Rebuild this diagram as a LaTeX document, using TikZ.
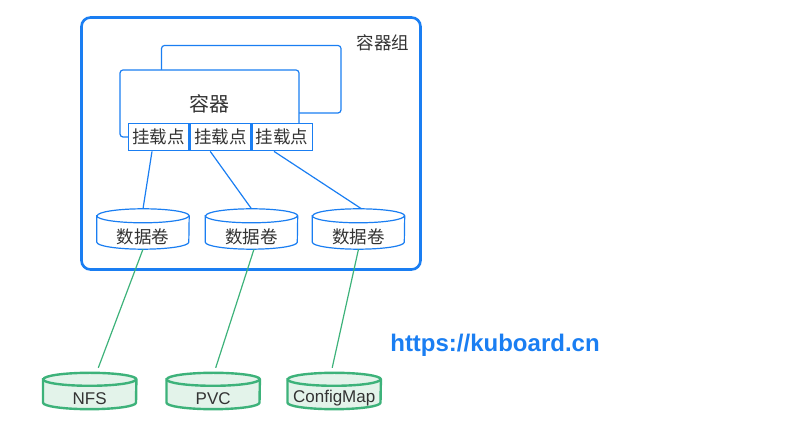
\documentclass[tikz,border=0pt]{standalone}
\usepackage{fontspec}
\setmainfont{Liberation Sans}
\newfontfamily\cjk{Noto Sans CJK SC}
\definecolor{kblue}{HTML}{1A7EF2}
\definecolor{kgreen}{HTML}{3DB27A}
\definecolor{kgfill}{HTML}{E3F3EA}
\definecolor{ktext}{HTML}{333333}
\tikzset{
  podbox/.style={draw=kblue, line width=2.6pt, rounded corners=9pt},
  ctrbox/.style={draw=kblue, line width=1.2pt, rounded corners=3pt, fill=white},
  mountbox/.style={draw=kblue, line width=1.3pt, fill=white, minimum width=60.3pt, minimum height=27.5pt, inner sep=0pt, text=ktext, font=\cjk\fontsize{17.5}{20}\selectfont},
  volstyle/.style={draw=kblue, line width=1.2pt, fill=white},
  srcstyle/.style={draw=kgreen, line width=2.4pt, fill=kgfill},
  bluelink/.style={draw=kblue, line width=1.2pt},
  greenlink/.style={draw=kgreen, line width=1.2pt},
  cjklabel/.style={text=ktext, font=\cjk\fontsize{17.5}{20}\selectfont, inner sep=0pt},
  latlabel/.style={text=ktext, font=\fontsize{17}{20}\selectfont, inner sep=0pt},
}
% #1 name, #2 cx, #3 cy, #4 width, #5 height, #6 ry, #7 style, #8 label style, #9 text
\newcommand\mydrum[9]{%
  \node[inner sep=0pt, minimum width=#4pt, minimum height=#5pt] (#1) at (#2,#3) {};
  \path[#7] ([yshift=-#6pt]#1.north west) -- ([yshift=#6pt]#1.south west)
    arc[start angle=180, end angle=360, x radius={#4*0.5pt}, y radius=#6pt]
    -- ([yshift=-#6pt]#1.north east)
    arc[start angle=0, end angle=180, x radius={#4*0.5pt}, y radius=#6pt] -- cycle;
  \path[#7, fill=none] ([yshift=-#6pt]#1.north west)
    arc[start angle=180, end angle=360, x radius={#4*0.5pt}, y radius=#6pt];
  \node[#8] (#1-label) at ([yshift=-7.5pt]#1.center) {#9};
}
\begin{document}
\begin{tikzpicture}[x=1pt, y=1pt]
\useasboundingbox (0,0) rectangle (807,433);
% pod
\draw[podbox] (81.5,163.5) rectangle (420.5,415.5);
\node[cjklabel] (podlabel) at (383,390) {容器组};
% containers
\draw[ctrbox] (161.5,320) rectangle (341,387.5);
\draw[ctrbox] (120,296) rectangle (299,363);
\node[cjklabel, font=\cjk\fontsize{20}{24}\selectfont] (ctrlabel) at (209,329) {容器};
% mount points
\node[mountbox] (m1) at (158.5,296) {挂载点};
\node[mountbox] (m2) at (220.25,296) {挂载点};
\node[mountbox] (m3) at (282,296) {挂载点};
% volumes
\mydrum{v1}{143}{204}{92}{40}{7}{volstyle}{cjklabel}{数据卷}
\mydrum{v2}{251.5}{204}{92}{40}{7}{volstyle}{cjklabel}{数据卷}
\mydrum{v3}{358.5}{204}{92}{40}{7}{volstyle}{cjklabel}{数据卷}
% sources
\mydrum{nfs}{89.7}{42}{93}{36}{6.5}{srcstyle}{latlabel}{NFS}
\mydrum{pvc}{213.2}{42}{93}{36}{6.5}{srcstyle}{latlabel}{PVC}
\mydrum{cm}{334.2}{42}{93}{36}{6.5}{srcstyle}{latlabel}{ConfigMap}
% links
\draw[bluelink] ([xshift=-6.5pt]m1.south) -- (v1.north);
\draw[bluelink] ([xshift=-10pt]m2.south) -- (v2.north);
\draw[bluelink] ([xshift=-8pt]m3.south) -- ([xshift=3pt]v3.north);
\draw[greenlink] (v1.south) -- ([xshift=8.6pt, yshift=5pt]nfs.north);
\draw[greenlink] ([xshift=2.5pt]v2.south) -- ([xshift=2.5pt, yshift=5pt]pvc.north);
\draw[greenlink] (v3.south) -- ([xshift=-2pt, yshift=5pt]cm.north);
% url
\node[text=kblue, font=\bfseries\fontsize{24}{28}\selectfont, inner sep=0pt] (url) at (495,88) {https://kuboard.cn};
\end{tikzpicture}
\end{document}
